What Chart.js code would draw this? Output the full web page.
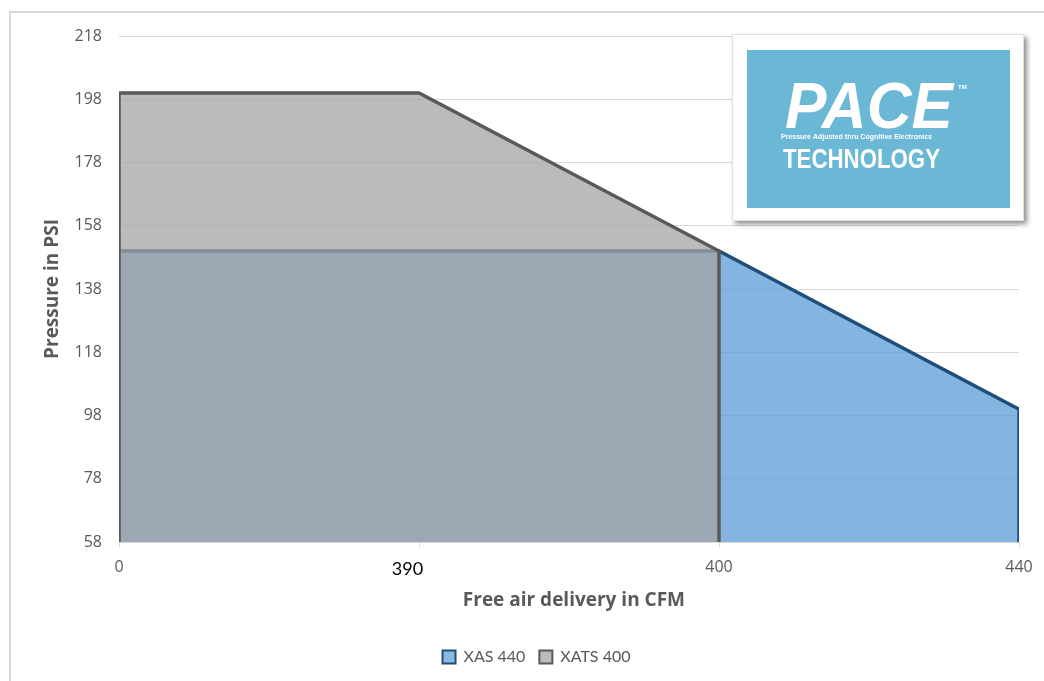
<!DOCTYPE html>
<html>
<head>
<meta charset="utf-8">
<script src="https://cdn.jsdelivr.net/npm/chart.js@4"></script>
<style>
  html, body { margin: 0; padding: 0; background: #fff; }
  #wrap { position: relative; width: 1044px; height: 681px; }
</style>
</head>
<body>
<div id="wrap"><canvas id="myChart" width="1044" height="681"></canvas></div>
<script>
// donnees
const xLabels = ["0", "390", "400", "440"];
const xas440 = [150, 150, 150, 100];
const xats400 = [200, 200, 150];
const yTicks = [58, 78, 98, 118, 138, 158, 178, 198, 218];
const seriesNames = ["XAS 440", "XATS 400"];

const yMin = yTicks[0];
const yMax = yTicks[yTicks.length - 1];

// contour ferme : on descend jusqu'a la base au debut et a la fin
function toPoints(values) {
  let pts = [{ x: 0, y: yMin }];
  values.forEach((v, i) => pts.push({ x: i, y: v }));
  pts.push({ x: values.length - 1, y: yMin });
  return pts;
}

const grey = "#595959";
const tickFont = "'Open Sans', sans-serif";

// cadre gris clair autour du graphique + logo PACE
const decor = {
  id: "decor",
  afterLayout(chart) {
    // la legende du modele est un peu decalee vers la droite
    chart.legend.left += 27;
    chart.legend.right += 27;
  },
  beforeDraw(chart) {
    let ctx = chart.ctx;
    ctx.save();
    ctx.strokeStyle = "#d9d9d9";
    ctx.lineWidth = 2;
    ctx.strokeRect(10, 12, 1100, 800);
    ctx.restore();
  },
  afterDraw(chart) {
    let ctx = chart.ctx;
    ctx.save();
    // boite blanche avec ombre
    ctx.shadowColor = "rgba(0,0,0,0.45)";
    ctx.shadowBlur = 5;
    ctx.shadowOffsetX = 3;
    ctx.shadowOffsetY = 3;
    ctx.fillStyle = "#ffffff";
    ctx.fillRect(732, 34, 292, 187);
    ctx.shadowColor = "transparent";
    ctx.strokeStyle = "#e0e0e0";
    ctx.lineWidth = 1;
    ctx.strokeRect(732.5, 34.5, 291, 186);
    // fond bleu
    ctx.fillStyle = "#6bb7d6";
    ctx.fillRect(747, 50, 263, 158);
    // textes
    ctx.fillStyle = "#ffffff";
    ctx.textBaseline = "alphabetic";
    ctx.textAlign = "left";
    ctx.font = "italic bold 64px 'Liberation Sans', Arial, sans-serif";
    ctx.fillText("PACE", 785, 128, 168);
    ctx.font = "bold 6px 'Liberation Sans', Arial, sans-serif";
    ctx.fillText("TM", 958, 89);
    ctx.font = "bold 7px 'Liberation Sans', Arial, sans-serif";
    ctx.fillText("Pressure Adjusted thru Cognitive Electronics", 781, 139, 166);
    ctx.font = "bold 28px 'Liberation Sans Narrow', 'Liberation Sans', Arial, sans-serif";
    ctx.fillText("TECHNOLOGY", 783, 168, 157);
    ctx.restore();
  },
};

const data = {
  datasets: [
    {
      label: seriesNames[0],
      data: toPoints(xas440),
      borderColor: "#1f4e79",
      backgroundColor: "rgba(91,155,213,0.75)",
      legendFill: "#8db8e2",
      borderWidth: 3.5,
      fill: "start",
      order: 1,
    },
    {
      label: seriesNames[1],
      data: toPoints(xats400),
      borderColor: grey,
      backgroundColor: "rgba(164,164,164,0.75)",
      legendFill: "#bcbcbc",
      borderWidth: 3.5,
      fill: "start",
      order: 0,
    },
  ],
};

const config = {
  type: "line",
  data: data,
  options: {
    responsive: false,
    animation: false,
    layout: { padding: { left: 0, right: 25, top: 36, bottom: 6 } },
    elements: {
      point: { radius: 0, hoverRadius: 0 },
      line: { tension: 0, borderJoinStyle: "miter", borderCapStyle: "butt" },
    },
    plugins: {
      tooltip: { enabled: false },
      legend: {
        position: "bottom",
        labels: {
          boxWidth: 13,
          boxHeight: 13,
          padding: 14,
          color: grey,
          font: { family: "Lato", size: 16 },
          sort: (a, b) => a.datasetIndex - b.datasetIndex,
          generateLabels(chart) {
            return chart.data.datasets.map((ds, i) => ({
              text: ds.label,
              fillStyle: ds.legendFill,
              strokeStyle: ds.borderColor,
              lineWidth: 2,
              fontColor: grey,
              datasetIndex: i,
            }));
          },
        },
      },
    },
    scales: {
      x: {
        type: "linear",
        min: 0,
        max: xLabels.length - 1,
        afterFit(scale) {
          scale.height = 93;
        },
        afterBuildTicks(scale) {
          scale.ticks = xLabels.map((l, i) => ({ value: i }));
        },
        ticks: {
          padding: 11,
          maxRotation: 0,
          // le 390 du modele est en noir, plus gros et decale a gauche
          callback: (v) => (v === 1 ? xLabels[v] + "     " : xLabels[v]),
          color: (c) => (c.tick && c.tick.value === 1 ? "#000000" : grey),
          font: (c) =>
            c.tick && c.tick.value === 1
              ? { family: "Lato", size: 18 }
              : { family: tickFont, size: 16 },
        },
        grid: {
          drawOnChartArea: false,
          drawTicks: true,
          tickLength: 5,
          color: "#d9d9d9",
        },
        border: { display: true, color: "#d9d9d9", width: 1 },
        title: {
          display: true,
          text: "  Free air delivery in CFM",
          color: grey,
          font: { family: tickFont, size: 19, weight: "bold" },
          padding: { top: 0, bottom: 23 },
        },
      },
      y: {
        min: yMin,
        max: yMax,
        afterFit(scale) {
          scale.width = 119;
        },
        afterBuildTicks(scale) {
          scale.ticks = yTicks.map((v) => ({ value: v }));
        },
        ticks: {
          padding: 17,
          color: grey,
          font: { family: tickFont, size: 16 },
        },
        grid: { color: "#d9d9d9", drawTicks: false },
        border: { display: false },
        title: {
          display: true,
          text: "Pressure in PSI",
          color: grey,
          font: { family: tickFont, size: 19, weight: "bold" },
          padding: { top: 41, bottom: 0 },
        },
      },
    },
  },
  plugins: [decor],
};

let context = document.getElementById("myChart").getContext("2d");
let chart = new Chart(context, config);
</script>
</body>
</html>
